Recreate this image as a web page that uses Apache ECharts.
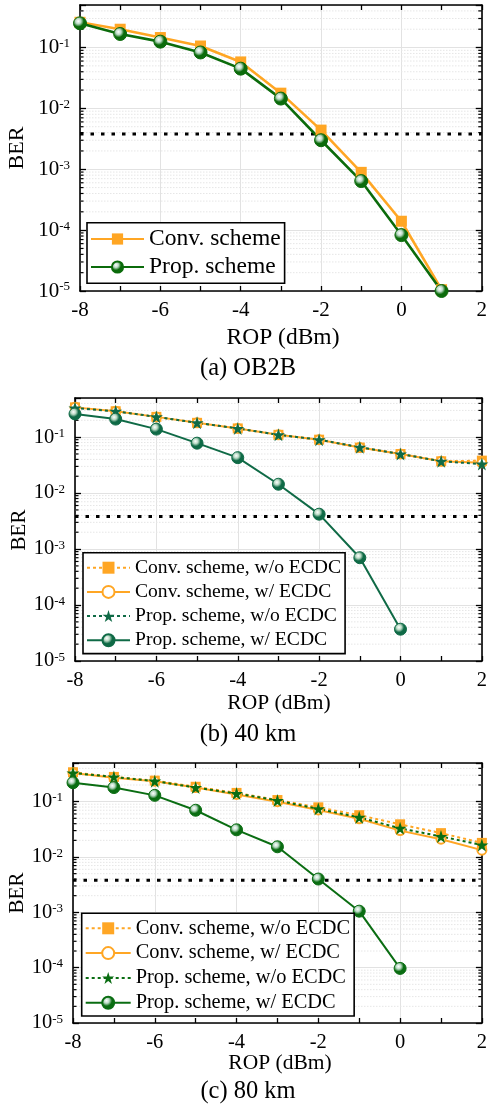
<!DOCTYPE html>
<html><head><meta charset="utf-8">
<script src="https://cdn.jsdelivr.net/npm/echarts@6/dist/echarts.min.js"></script>
<style>html,body{margin:0;padding:0;background:#fff}#c{width:490px;height:1108px}</style>
</head><body><div id="c"></div><script>
// ---------- data ----------
const ropA = [-8, -7, -6, -5, -4, -3, -2, -1, 0, 1];
const aConv = [0.26, 0.2, 0.146, 0.106, 0.058, 0.0178, 0.0044, 0.00089, 1.4e-4, 1.05e-5];
const aProp = [0.25, 0.167, 0.125, 0.083, 0.045, 0.0145, 0.003, 0.00064, 8.3e-5, 1.0e-5];

const ropBC = [-8, -7, -6, -5, -4, -3, -2, -1, 0, 1, 2];
const ropBCw = [-8, -7, -6, -5, -4, -3, -2, -1, 0];
const bConvWo = [0.34, 0.29, 0.23, 0.18, 0.143, 0.11, 0.09, 0.065, 0.05, 0.037, 0.038];
const bConvW = [0.34, 0.29, 0.23, 0.18, 0.143, 0.11, 0.09, 0.065, 0.05, 0.037, 0.035];
const bPropWo = [0.33, 0.29, 0.23, 0.18, 0.143, 0.11, 0.09, 0.066, 0.05, 0.037, 0.033];
const bPropW = [0.26, 0.21, 0.139, 0.078, 0.043, 0.0144, 0.0042, 0.0007, 3.7e-5];

const cConvWo = [0.34, 0.28, 0.24, 0.186, 0.144, 0.107, 0.079, 0.057, 0.039, 0.027, 0.018];
const cConvW = [0.33, 0.27, 0.235, 0.18, 0.135, 0.1, 0.071, 0.049, 0.030, 0.021, 0.0133];
const cPropWo = [0.33, 0.28, 0.235, 0.18, 0.14, 0.105, 0.074, 0.052, 0.033, 0.0235, 0.0165];
const cPropW = [0.22, 0.18, 0.13, 0.07, 0.031, 0.0153, 0.004, 0.00105, 9.7e-5];

const fecThreshold = 3.8e-3;
const fecX = [-8, 2];
const xTicks = { min: -8, max: 2, interval: 2 };
const yRange = { min: 1e-5, max: 0.5 };
const namesA = ['Conv. scheme', 'Prop. scheme'];
const namesBC = ['Conv. scheme, w/o ECDC', 'Conv. scheme, w/ ECDC', 'Prop. scheme, w/o ECDC', 'Prop. scheme, w/ ECDC'];
const captions = ['(a) OB2B', '(b) 40 km', '(c) 80 km'];

// ---------- styling ----------
const FONT = "'Liberation Serif','Times New Roman',serif";
const ORANGE = '#FFA624';
const GREENS = ['#0B6B0B', '#0F6A46', '#0A6D12'];
const STAR = 'path://M50,0 L61.8,35.4 L99,35.4 L69,57.3 L80.4,92.7 L50,70.8 L19.6,92.7 L31,57.3 L1,35.4 L38.2,35.4 Z';

function pairs(xs, ys) { return xs.map((x, i) => [x, ys[i]]); }
function sphere(c) {
  return { type: 'radial', x: 0.38, y: 0.35, r: 0.65,
    colorStops: [{ offset: 0, color: '#ffffff' }, { offset: 0.3, color: '#b9d9c4' }, { offset: 0.6, color: c }, { offset: 1, color: c }] };
}
const minorVals = [];
for (let e = -5; e <= -1; e++) for (let k = 2; k <= 9; k++) { const v = k * Math.pow(10, e); if (v < yRange.max) minorVals.push(v); }

const panels = [
  { grid: { left: 80, top: 5, width: 406, height: 286 }, tick: 21, lab: 23.5, ber: 22,
    ber_xy: [17, 148], rop_xy: [283, 338], cap_xy: [248, 369],
    legend: { left: 87, top: 222.7, padding: [4.3, 4, 4.3, 3], itemGap: 4, itemWidth: 53, itemHeight: 14, fontSize: 23.5, lineHeight: 24 } },
  { grid: { left: 75, top: 398, width: 407.5, height: 263 }, tick: 20.5, lab: 21.5, ber: 21,
    ber_xy: [19, 530], rop_xy: [279, 703], cap_xy: [248, 735],
    legend: { left: 83, top: 552.7, padding: [5, 4, 3.3, 3], itemGap: 4.2, itemWidth: 43, itemHeight: 15, fontSize: 19.6, lineHeight: 20 } },
  { grid: { left: 73, top: 763, width: 412, height: 260 }, tick: 20.5, lab: 21.5, ber: 21,
    ber_xy: [17, 893], rop_xy: [280, 1063], cap_xy: [248, 1092],
    legend: { left: 81.7, top: 913.3, padding: [4.5, 4, 2.8, 3], itemGap: 3.8, itemWidth: 45, itemHeight: 15, fontSize: 20.4, lineHeight: 21 } }
];

const option = { animation: false, backgroundColor: '#fff', grid: [], xAxis: [], yAxis: [], series: [], legend: [], graphic: [] };

function yFmt(v) {
  const l = Math.log10(v); const e = Math.round(l);
  if (Math.abs(l - e) > 1e-6) return '';
  return '10{sup|' + e + '}';
}

panels.forEach((p, i) => {
  option.grid.push(Object.assign({ show: false, containLabel: false }, p.grid));
  const axLine = { show: true, onZero: false, lineStyle: { color: '#000', width: 1.6 } };
  option.xAxis.push({ type: 'value', gridIndex: i, position: 'bottom', min: xTicks.min, max: xTicks.max, interval: xTicks.interval,
    axisLine: axLine, axisTick: { show: true, inside: true, length: 5, lineStyle: { color: '#000', width: 1.3 } },
    minorTick: { show: true, splitNumber: 2, length: 5, lineStyle: { color: '#000', width: 1.3 } },
    splitLine: { show: true, lineStyle: { color: '#e2e2e2', width: 1 } },
    axisLabel: { show: true, fontFamily: FONT, fontSize: p.tick, color: '#000', margin: 9 } });
  option.xAxis.push({ type: 'value', gridIndex: i, position: 'top', min: xTicks.min, max: xTicks.max, interval: xTicks.interval,
    axisLine: axLine, axisTick: { show: true, inside: true, length: 5, lineStyle: { color: '#000', width: 1.3 } },
    minorTick: { show: true, splitNumber: 2, length: 5, lineStyle: { color: '#000', width: 1.3 } },
    splitLine: { show: false }, axisLabel: { show: false } });
  option.yAxis.push({ type: 'log', logBase: 10, gridIndex: i, position: 'left', min: yRange.min, max: yRange.max,
    axisLine: axLine, axisTick: { show: true, inside: true, length: 6, lineStyle: { color: '#000', width: 1.3 } },
    splitLine: { show: true, lineStyle: { color: '#e2e2e2', width: 1 } },
    axisLabel: { show: true, formatter: yFmt, fontFamily: FONT, fontSize: p.tick, color: '#000', margin: 10, lineHeight: p.tick,
      rich: { sup: { fontFamily: FONT, fontSize: Math.round(p.tick * 0.63), color: '#000', verticalAlign: 'top', lineHeight: p.tick } } } });
  option.yAxis.push({ type: 'log', logBase: 10, gridIndex: i, position: 'right', min: yRange.min, max: yRange.max,
    axisLine: axLine, axisTick: { show: true, inside: true, length: 6, lineStyle: { color: '#000', width: 1.3 } },
    splitLine: { show: false }, axisLabel: { show: false } });

  // minor log grid + minor ticks
  option.series.push({ type: 'custom', xAxisIndex: 2 * i, yAxisIndex: 2 * i, silent: true, z: 1, clip: true,
    data: minorVals.map(v => [xTicks.min, v]), encode: { x: 0, y: 1 },
    renderItem: (params, api) => {
      const cs = params.coordSys; const y = api.coord([xTicks.min, api.value(1)])[1];
      return { type: 'group', children: [
        { type: 'line', shape: { x1: cs.x, y1: y, x2: cs.x + cs.width, y2: y }, style: { stroke: '#e6e6e6', lineWidth: 1, lineDash: [1.5, 1.5] } },
        { type: 'line', shape: { x1: cs.x, y1: y, x2: cs.x + 3.5, y2: y }, style: { stroke: '#000', lineWidth: 1.2 } },
        { type: 'line', shape: { x1: cs.x + cs.width - 3.5, y1: y, x2: cs.x + cs.width, y2: y }, style: { stroke: '#000', lineWidth: 1.2 } }
      ] };
    } });

  // FEC threshold
  option.series.push({ type: 'line', name: 'FEC' + i, xAxisIndex: 2 * i, yAxisIndex: 2 * i, silent: true, z: 2,
    data: fecX.map(x => [x, fecThreshold]), symbol: 'none',
    lineStyle: { color: '#000', type: [3.5, 7], width: 3 } });

  const G = GREENS[i];
  const suffix = '#' + i;
  const base = { type: 'line', xAxisIndex: 2 * i, yAxisIndex: 2 * i, showAllSymbol: true, clip: true, z: 3 };
  let names;
  if (i === 0) {
    names = namesA.map(n => n + suffix);
    option.series.push(Object.assign({}, base, { name: names[0], data: pairs(ropA, aConv), symbol: 'rect', symbolSize: 11,
      lineStyle: { color: ORANGE, width: 2.6 }, itemStyle: { color: ORANGE } }));
    option.series.push(Object.assign({}, base, { name: names[1], data: pairs(ropA, aProp), symbol: 'circle', symbolSize: 13,
      lineStyle: { color: G, width: 2.6 }, itemStyle: { color: sphere(G), borderColor: G, borderWidth: 1 } }));
  } else {
    const d = i === 1 ? [bConvWo, bConvW, bPropWo, bPropW] : [cConvWo, cConvW, cPropWo, cPropW];
    names = namesBC.map(n => n + suffix);
    option.series.push(Object.assign({}, base, { name: names[0], data: pairs(ropBC, d[0]), symbol: 'rect', symbolSize: 10,
      lineStyle: { color: ORANGE, width: 2, type: [3, 3] }, itemStyle: { color: ORANGE } }));
    option.series.push(Object.assign({}, base, { name: names[1], data: pairs(ropBC, d[1]), symbol: 'emptyCircle', symbolSize: 9,
      lineStyle: { color: ORANGE, width: 2 }, itemStyle: { color: ORANGE, borderWidth: 1.6 } }));
    option.series.push(Object.assign({}, base, { name: names[2], data: pairs(ropBC, d[2]), symbol: STAR, symbolSize: 13,
      lineStyle: { color: G, width: 2, type: [3, 3] }, itemStyle: { color: G } }));
    option.series.push(Object.assign({}, base, { name: names[3], data: pairs(ropBCw, d[3]), symbol: 'circle', symbolSize: 12,
      lineStyle: { color: G, width: 2 }, itemStyle: { color: sphere(G), borderColor: G, borderWidth: 1 } }));
  }
  const L = p.legend;
  option.legend.push({ orient: 'vertical', left: L.left, top: L.top, padding: L.padding, itemGap: L.itemGap,
    itemWidth: L.itemWidth, itemHeight: L.itemHeight, borderColor: '#000', borderWidth: 1.6, backgroundColor: '#fff',
    borderRadius: 0, selectedMode: false, data: names, formatter: n => n.replace(/#\d$/, ''),
    textStyle: { fontFamily: FONT, fontSize: L.fontSize, lineHeight: L.lineHeight, color: '#000' } });

  const txt = (xy, text, size, rot) => ({ type: 'text', x: xy[0], y: xy[1], rotation: rot || 0, silent: true,
    style: { text: text, fontFamily: FONT, fontSize: size, fill: '#000', align: 'center', verticalAlign: 'middle' } });
  option.graphic.push(txt(p.ber_xy, 'BER', p.ber, Math.PI / 2));
  option.graphic.push(txt(p.rop_xy, 'ROP (dBm)', p.lab));
  option.graphic.push(txt(p.cap_xy, captions[i], 24.5));
});

const chart = echarts.init(document.getElementById('c'), null, { renderer: 'canvas' });
chart.setOption(option);
</script></body></html>
